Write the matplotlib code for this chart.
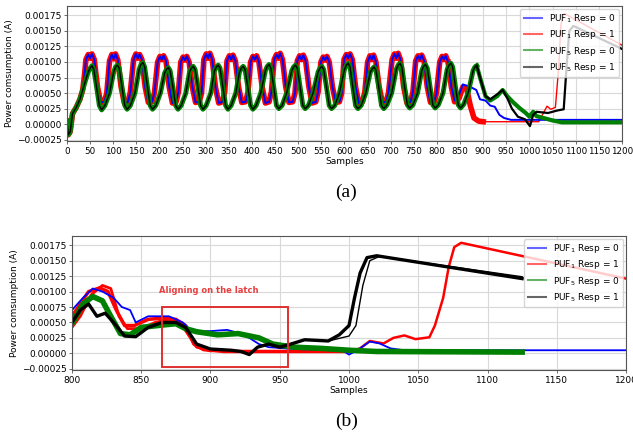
import matplotlib
matplotlib.use("Agg")
import matplotlib.pyplot as plt
from matplotlib.lines import Line2D
from matplotlib.patches import Rectangle

# ---- panel (a): full trace, 0..1200 samples ----
# PUF1 oscillation (red/blue bundles overlap until the latch), one row per cycle
puf1_wave_x = [0, 3, 7, 12, 20, 28, 34, 38,
               41, 46, 50, 54, 59, 66, 73, 81, 86,
               92, 97, 101, 105, 110, 117, 124, 132, 137,
               144, 149, 153, 157, 162, 169, 176, 184, 189,
               196, 201, 205, 209, 214, 221, 228, 236, 241,
               246, 251, 255, 259, 264, 271, 278, 286, 291,
               296, 301, 305, 309, 314, 321, 328, 336, 341,
               346, 351, 355, 359, 364, 371, 378, 386, 391,
               397, 402, 406, 410, 415, 422, 429, 437, 442,
               448, 453, 457, 461, 466, 473, 480, 488, 493,
               498, 503, 507, 511, 516, 523, 530, 538, 543,
               549, 554, 558, 562, 567, 574, 581, 589, 594,
               599, 604, 608, 612, 617, 624, 631, 639, 644,
               650, 655, 659, 663, 668, 675, 682, 690, 695,
               703, 708, 712, 716, 721, 728, 735, 743, 748,
               754, 759, 763, 767, 772, 779, 786, 794, 799,
               806, 811, 815, 819, 824]
puf1_wave_y = [0.00005, -0.00017, -0.00012, 0.00017, 0.00027, 0.00040, 0.00055, 0.00080,
               0.00104, 0.00112, 0.00106, 0.00113, 0.00104, 0.00060, 0.00035, 0.00036, 0.00050,
               0.00102, 0.00112, 0.00105, 0.00113, 0.00103, 0.00060, 0.00034, 0.00036, 0.00052,
               0.00104, 0.00113, 0.00106, 0.00112, 0.00104, 0.00060, 0.00035, 0.00036, 0.00050,
               0.00100, 0.00109, 0.00104, 0.00110, 0.00102, 0.00060, 0.00034, 0.00036, 0.00052,
               0.00100, 0.00108, 0.00103, 0.00109, 0.00100, 0.00060, 0.00035, 0.00036, 0.00050,
               0.00104, 0.00113, 0.00106, 0.00114, 0.00104, 0.00060, 0.00034, 0.00036, 0.00052,
               0.00102, 0.00110, 0.00104, 0.00111, 0.00102, 0.00060, 0.00035, 0.00036, 0.00050,
               0.00100, 0.00109, 0.00104, 0.00110, 0.00100, 0.00060, 0.00034, 0.00036, 0.00052,
               0.00104, 0.00112, 0.00106, 0.00114, 0.00104, 0.00060, 0.00035, 0.00036, 0.00050,
               0.00102, 0.00110, 0.00104, 0.00111, 0.00102, 0.00060, 0.00034, 0.00036, 0.00052,
               0.00100, 0.00108, 0.00103, 0.00109, 0.00100, 0.00060, 0.00035, 0.00036, 0.00050,
               0.00104, 0.00112, 0.00106, 0.00113, 0.00104, 0.00060, 0.00034, 0.00036, 0.00052,
               0.00100, 0.00110, 0.00104, 0.00111, 0.00100, 0.00060, 0.00035, 0.00036, 0.00050,
               0.00104, 0.00113, 0.00106, 0.00114, 0.00104, 0.00060, 0.00034, 0.00036, 0.00052,
               0.00102, 0.00110, 0.00104, 0.00111, 0.00102, 0.00060, 0.00035, 0.00036, 0.00050,
               0.00100, 0.00109, 0.00104, 0.00110, 0.00100]
red_a_x = [824, 831, 838, 848, 856, 864, 872, 880, 890, 900,
           1020, 1030, 1038, 1046, 1056, 1063, 1068, 1075, 1200]
red_a_y = [0.00100, 0.00060, 0.00036, 0.00042, 0.00060, 0.00058, 0.00030, 0.00010, 0.00005, 0.00004,
           0.00004, 0.00018, 0.00029, 0.00024, 0.00027, 0.00090, 0.00160, 0.00178, 0.00127]
blue_a_x = [824, 831, 838, 848, 856, 872, 885, 893, 905, 915, 925, 935, 945, 960, 1200]
blue_a_y = [0.00100, 0.00060, 0.00038, 0.00048, 0.00064, 0.00060, 0.00055, 0.00040, 0.00038, 0.00030,
            0.00028, 0.00015, 0.00010, 0.00007, 0.00007]

# PUF5 oscillation (green/black bundles), one row per cycle
puf5_wave_x = [0, 3, 7, 12, 20, 28, 34, 40,
               46, 50, 54, 58, 64, 70, 75, 82, 92,
               101, 105, 109, 113, 119, 125, 130, 137, 147,
               156, 160, 164, 168, 174, 180, 185, 192, 202,
               211, 215, 219, 223, 229, 235, 240, 247, 257,
               265, 269, 273, 277, 283, 289, 294, 301, 311,
               319, 323, 327, 331, 337, 343, 348, 355, 365,
               373, 377, 381, 385, 391, 397, 402, 409, 419,
               429, 433, 437, 441, 447, 453, 458, 465, 475,
               486, 490, 494, 498, 504, 510, 515, 522, 532,
               543, 547, 551, 555, 561, 567, 572, 579, 589,
               600, 604, 608, 612, 618, 624, 629, 636, 646,
               656, 660, 664, 668, 674, 680, 685, 692, 702,
               712, 716, 720, 724, 730, 736, 741, 748, 758,
               767, 771, 775, 779, 785, 791, 796, 803, 813,
               822, 826, 830, 834, 840, 846, 851, 858, 868,
               878, 882, 886]
puf5_wave_y = [0.00005, -0.00017, -0.00012, 0.00017, 0.00027, 0.00040, 0.00055, 0.00070,
               0.00084, 0.00090, 0.00094, 0.00088, 0.00060, 0.00030, 0.00023, 0.00030, 0.00050,
               0.00084, 0.00092, 0.00095, 0.00090, 0.00060, 0.00030, 0.00024, 0.00030, 0.00050,
               0.00088, 0.00096, 0.00099, 0.00092, 0.00060, 0.00030, 0.00024, 0.00030, 0.00050,
               0.00082, 0.00088, 0.00091, 0.00086, 0.00060, 0.00030, 0.00024, 0.00030, 0.00050,
               0.00084, 0.00090, 0.00093, 0.00088, 0.00060, 0.00030, 0.00024, 0.00030, 0.00050,
               0.00086, 0.00092, 0.00095, 0.00090, 0.00060, 0.00030, 0.00024, 0.00030, 0.00050,
               0.00084, 0.00090, 0.00093, 0.00088, 0.00060, 0.00030, 0.00024, 0.00030, 0.00050,
               0.00086, 0.00093, 0.00096, 0.00090, 0.00060, 0.00030, 0.00025, 0.00030, 0.00050,
               0.00086, 0.00092, 0.00095, 0.00090, 0.00060, 0.00030, 0.00025, 0.00030, 0.00050,
               0.00084, 0.00090, 0.00093, 0.00088, 0.00060, 0.00030, 0.00025, 0.00030, 0.00050,
               0.00088, 0.00095, 0.00098, 0.00092, 0.00060, 0.00030, 0.00025, 0.00030, 0.00050,
               0.00084, 0.00089, 0.00092, 0.00087, 0.00060, 0.00030, 0.00025, 0.00031, 0.00050,
               0.00088, 0.00095, 0.00098, 0.00092, 0.00060, 0.00031, 0.00026, 0.00031, 0.00050,
               0.00086, 0.00093, 0.00096, 0.00090, 0.00060, 0.00031, 0.00026, 0.00031, 0.00050,
               0.00088, 0.00095, 0.00098, 0.00092, 0.00060, 0.00031, 0.00026, 0.00032, 0.00052,
               0.00086, 0.00092, 0.00094]
green_a_x = [886, 895, 905, 915, 930, 942, 952, 965, 980, 992, 1000, 1008, 1015, 1030, 1050, 1070, 1200]
green_a_y = [0.00094, 0.00070, 0.00045, 0.00038, 0.00045, 0.00055, 0.00045, 0.00035, 0.00025, 0.00018,
             0.00012, 0.00020, 0.00013, 0.00010, 0.00006, 0.00003, 0.00003]
black_a_x = [886, 895, 905, 915, 930, 942, 952, 962, 975, 990, 1001, 1008, 1015, 1040, 1060, 1074, 1080,
             1086, 1095, 1200]
black_a_y = [0.00094, 0.00070, 0.00045, 0.00040, 0.00048, 0.00055, 0.00042, 0.00025, 0.00012, 0.00008,
             -0.00003, 0.00015, 0.00020, 0.00018, 0.00022, 0.00024, 0.00090, 0.00150, 0.00158, 0.00121]

# ---- panel (b): aligned on the latch, 800..1200 samples ----
red_b_x = [800, 806, 812, 820, 826, 832, 838, 845, 855, 865, 875, 882, 888, 895, 910, 1000]
red_b_y = [0.00060, 0.00080, 0.00100, 0.00106, 0.00100, 0.00070, 0.00045, 0.00045, 0.00055, 0.00057,
           0.00055, 0.00045, 0.00015, 0.00006, 0.00003, 0.00003]
red_b2_x = [800, 806, 814, 822, 828, 834, 840, 850, 860, 870, 878, 884, 890, 900]
red_b2_y = [0.00042, 0.00060, 0.00095, 0.00110, 0.00105, 0.00060, 0.00040, 0.00040, 0.00050, 0.00055,
            0.00050, 0.00030, 0.00010, 0.00004]
red_b_tail_x = [1000, 1008, 1015, 1025, 1032, 1040, 1048, 1058, 1062, 1068, 1072, 1076, 1081, 1200]
red_b_tail_y = [0.00003, 0.00008, 0.00020, 0.00016, 0.00025, 0.00029, 0.00023, 0.00026, 0.00045,
                0.00090, 0.00140, 0.00172, 0.00179, 0.00121]
blue_b_x = [800, 808, 815, 822, 830, 836, 842, 846, 855, 870, 880, 887, 900, 912, 920, 928, 935, 942,
            960, 995, 1000, 1006, 1015, 1022, 1030, 1040, 1200]
blue_b_y = [0.00070, 0.00090, 0.00105, 0.00100, 0.00090, 0.00075, 0.00070, 0.00050, 0.00060, 0.00060,
            0.00050, 0.00035, 0.00036, 0.00038, 0.00033, 0.00025, 0.00015, 0.00010, 0.00007, 0.00005,
            -0.00002, 0.00005, 0.00019, 0.00016, 0.00008, 0.00005, 0.00005]
green_b_x = [800, 808, 815, 822, 828, 835, 842, 850, 862, 875, 882, 890, 905, 920, 935, 945, 960, 980,
             1000, 1020, 1125]
green_b_y = [0.00048, 0.00080, 0.00092, 0.00085, 0.00060, 0.00032, 0.00030, 0.00042, 0.00045, 0.00048,
             0.00040, 0.00035, 0.00030, 0.00032, 0.00025, 0.00015, 0.00010, 0.00008, 0.00005, 0.00003,
             0.00002]
black_b_x = [800, 806, 812, 818, 824, 830, 838, 846, 855, 865, 875, 882, 890, 900, 915, 922, 928, 934,
             942, 950, 958, 968, 985, 993, 1000, 1004, 1008, 1013, 1020, 1125]
black_b_y = [0.00050, 0.00070, 0.00080, 0.00060, 0.00065, 0.00050, 0.00028, 0.00027, 0.00042, 0.00050,
             0.00050, 0.00042, 0.00015, 0.00007, 0.00005, 0.00003, -0.00002, 0.00010, 0.00015, 0.00010,
             0.00015, 0.00022, 0.00020, 0.00030, 0.00045, 0.00090, 0.00130, 0.00155, 0.00158, 0.00121]
black_b2_x = [985, 1000, 1005, 1010, 1015, 1022, 1125]
black_b2_y = [0.00020, 0.00028, 0.00045, 0.00110, 0.00150, 0.00157, 0.00124]

legend_labels = ["PUF$_1$ Resp = 0", "PUF$_1$ Resp = 1", "PUF$_5$ Resp = 0", "PUF$_5$ Resp = 1"]
legend_colors = ["blue", "red", "green", "black"]

fig = plt.figure(figsize=(6.33, 4.32), dpi=100)
ax1 = fig.add_axes([0.1058, 0.6736, 0.8768, 0.3125])
ax2 = fig.add_axes([0.1137, 0.1435, 0.8753, 0.3102])


def style(ax, xmin, xmax, step):
    ax.set_xlim(xmin, xmax)
    ax.set_ylim(-0.00027, 0.0019)
    ax.set_xticks(range(xmin, xmax + 1, step))
    ax.set_yticks([-0.00025 + 0.00025 * i for i in range(9)])
    ax.set_yticklabels(["\u22120.00025", "0.00000", "0.00025", "0.00050", "0.00075",
                        "0.00100", "0.00125", "0.00150", "0.00175"])
    ax.tick_params(labelsize=6.5, length=2.5, width=0.6, color="#555555", pad=1.5)
    ax.grid(True, color="#d9d9d9", linewidth=0.8)
    for sp in ax.spines.values():
        sp.set_color("#555555")
        sp.set_linewidth(0.8)
    ax.set_xlabel("Samples", fontsize=6.5, labelpad=1)
    ax.set_ylabel("Power comsumption (A)", fontsize=6.5, labelpad=2)
    handles = [Line2D([0], [0], color=c, alpha=0.6, lw=1.5) for c in legend_colors]
    ax.legend(handles, legend_labels, loc="upper right", fontsize=6.5, framealpha=0.8,
              borderpad=0.4, labelspacing=0.35, handletextpad=0.8, borderaxespad=0.3)


# panel (a)
ax1.plot(puf1_wave_x, puf1_wave_y, color="red", lw=4.0)
ax1.plot(red_a_x[:10], red_a_y[:10], color="red", lw=4.0)
ax1.plot(red_a_x[9:], red_a_y[9:], color="red", lw=1.0)
ax1.plot(puf1_wave_x, puf1_wave_y, color="blue", lw=1.4)
ax1.plot(blue_a_x, blue_a_y, color="blue", lw=1.4)
ax1.plot(puf5_wave_x, puf5_wave_y, color="green", lw=3.5)
ax1.plot(green_a_x, green_a_y, color="green", lw=3.0)
ax1.plot(puf5_wave_x, puf5_wave_y, color="black", lw=1.0)
ax1.plot(black_a_x, black_a_y, color="black", lw=1.6)
style(ax1, 0, 1200, 50)
ax1.tick_params(axis="x", labelsize=6.3)

# panel (b)
ax2.plot(red_b_x, red_b_y, color="red", lw=2.5)
ax2.plot(red_b2_x, red_b2_y, color="red", lw=2.0)
ax2.plot(red_b_tail_x, red_b_tail_y, color="red", lw=1.8)
ax2.plot(blue_b_x, blue_b_y, color="blue", lw=1.3)
ax2.plot(green_b_x, green_b_y, color="green", lw=4.0)
ax2.plot(black_b_x, black_b_y, color="black", lw=2.4)
ax2.plot(black_b2_x, black_b2_y, color="black", lw=1.0)
ax2.add_patch(Rectangle((865, -0.00022), 91, 0.00097, fill=False, edgecolor="#e03030", lw=1.4, zorder=5))
ax2.text(863, 0.00101, "Aligning on the latch", color="#e84040", fontsize=6, fontweight="bold",
         va="center", ha="left")
style(ax2, 800, 1200, 50)

fig.text(0.5466, 1 - 192 / 432, "(a)", family="Liberation Serif", fontsize=14, ha="center", va="center")
fig.text(0.5482, 1 - 421 / 432, "(b)", family="Liberation Serif", fontsize=14, ha="center", va="center")

fig.savefig("out.png", dpi=100)
